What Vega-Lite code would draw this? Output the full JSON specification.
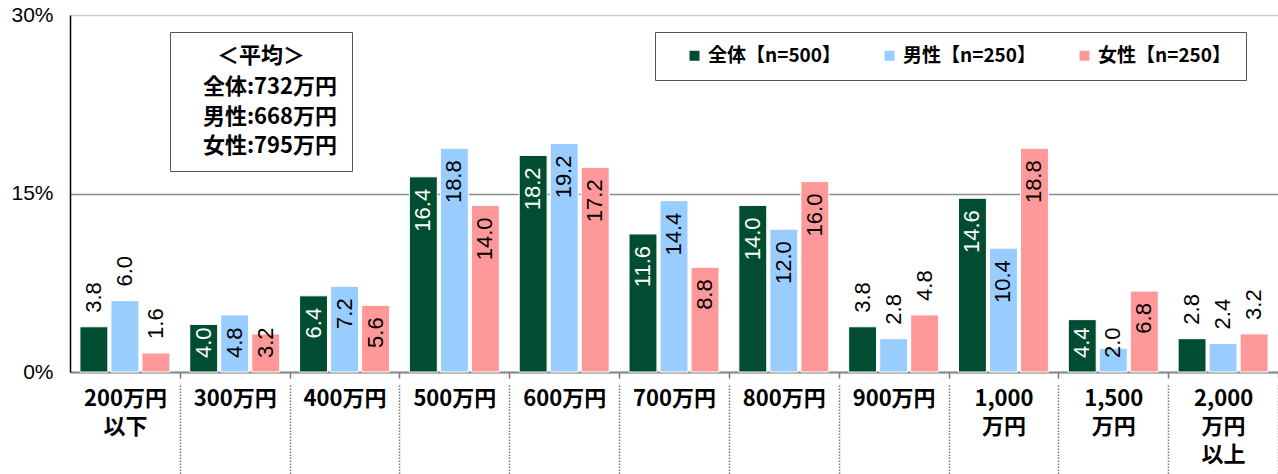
{
  "$schema": "https://vega.github.io/schema/vega-lite/v6.json",
  "width": 1208,
  "height": 357,
  "autosize": {"type": "none"},
  "padding": {"left": 70, "top": 15, "right": 0, "bottom": 102},
  "background": "white",
  "config": {
    "view": {"stroke": null},
    "font": "Noto Sans CJK JP"
  },
  "datasets": {
    "main": [
      {"cat": "200万円以下", "grp": "全体【n=500】", "v": 3.8},
      {"cat": "200万円以下", "grp": "男性【n=250】", "v": 6.0},
      {"cat": "200万円以下", "grp": "女性【n=250】", "v": 1.6},
      {"cat": "300万円", "grp": "全体【n=500】", "v": 4.0},
      {"cat": "300万円", "grp": "男性【n=250】", "v": 4.8},
      {"cat": "300万円", "grp": "女性【n=250】", "v": 3.2},
      {"cat": "400万円", "grp": "全体【n=500】", "v": 6.4},
      {"cat": "400万円", "grp": "男性【n=250】", "v": 7.2},
      {"cat": "400万円", "grp": "女性【n=250】", "v": 5.6},
      {"cat": "500万円", "grp": "全体【n=500】", "v": 16.4},
      {"cat": "500万円", "grp": "男性【n=250】", "v": 18.8},
      {"cat": "500万円", "grp": "女性【n=250】", "v": 14.0},
      {"cat": "600万円", "grp": "全体【n=500】", "v": 18.2},
      {"cat": "600万円", "grp": "男性【n=250】", "v": 19.2},
      {"cat": "600万円", "grp": "女性【n=250】", "v": 17.2},
      {"cat": "700万円", "grp": "全体【n=500】", "v": 11.6},
      {"cat": "700万円", "grp": "男性【n=250】", "v": 14.4},
      {"cat": "700万円", "grp": "女性【n=250】", "v": 8.8},
      {"cat": "800万円", "grp": "全体【n=500】", "v": 14.0},
      {"cat": "800万円", "grp": "男性【n=250】", "v": 12.0},
      {"cat": "800万円", "grp": "女性【n=250】", "v": 16.0},
      {"cat": "900万円", "grp": "全体【n=500】", "v": 3.8},
      {"cat": "900万円", "grp": "男性【n=250】", "v": 2.8},
      {"cat": "900万円", "grp": "女性【n=250】", "v": 4.8},
      {"cat": "1,000万円", "grp": "全体【n=500】", "v": 14.6},
      {"cat": "1,000万円", "grp": "男性【n=250】", "v": 10.4},
      {"cat": "1,000万円", "grp": "女性【n=250】", "v": 18.8},
      {"cat": "1,500万円", "grp": "全体【n=500】", "v": 4.4},
      {"cat": "1,500万円", "grp": "男性【n=250】", "v": 2.0},
      {"cat": "1,500万円", "grp": "女性【n=250】", "v": 6.8},
      {"cat": "2,000万円以上", "grp": "全体【n=500】", "v": 2.8},
      {"cat": "2,000万円以上", "grp": "男性【n=250】", "v": 2.4},
      {"cat": "2,000万円以上", "grp": "女性【n=250】", "v": 3.2}
    ],
    "avg": [
      {"avg": "全体:732万円"},
      {"avg": "男性:668万円"},
      {"avg": "女性:795万円"}
    ]
  },
  "layer": [
    {
      "data": {"name": "main"},
      "mark": {"type": "bar", "stroke": "white", "strokeWidth": 1},
      "encoding": {
        "x": {
          "field": "cat",
          "type": "nominal",
          "sort": null,
          "scale": {"paddingInner": 0, "paddingOuter": 0},
          "axis": {
            "title": null,
            "labelAngle": 0,
            "domainColor": "#8c8c8c",
            "domainWidth": 2,
            "tickBand": "extent",
            "tickSize": 102,
            "tickColor": {"condition": {"test": "datum.extra || datum.index < 0", "value": "rgba(0,0,0,0)"}, "value": "#777777"},
            "tickWidth": 1.5,
            "tickDash": [6, 7, 1.5, 1.5, 1.5, 1.5, 1.5, 1.5, 1.5, 1.5, 1.5, 1.5, 1.5, 1.5, 1.5, 1.5, 1.5, 1.5, 1.5, 1.5, 1.5, 1.5, 1.5, 1.5, 1.5, 1.5, 1.5, 1.5, 1.5, 1.5, 1.5, 1.5, 1.5, 1.5, 1.5, 1.5, 1.5, 1.5, 1.5, 1.5, 1.5, 1.5, 1.5, 1.5, 1.5, 1.5, 1.5, 1.5, 1.5, 1.5, 1.5, 1.5, 1.5, 1.5, 1.5, 1.5, 1.5, 1.5, 1.5, 1.5, 1.5, 1.5, 1.5, 1.5, 1.5, 1.5],
            "labelPadding": -86,
            "labelFont": "Noto Sans CJK JP",
            "labelFontWeight": "bold",
            "labelFontSize": 22,
            "labelColor": "black",
            "labelLineHeight": 28,
            "labelOverlap": false,
            "labelBound": false,
            "labelExpr": "datum.value == '200万円以下' ? ['200万円','以下'] : datum.value == '1,000万円' ? ['1,000','万円'] : datum.value == '1,500万円' ? ['1,500','万円'] : datum.value == '2,000万円以上' ? ['2,000','万円','以上'] : datum.value"
          }
        },
        "xOffset": {
          "field": "grp",
          "type": "nominal",
          "sort": ["全体【n=500】", "男性【n=250】", "女性【n=250】"],
          "scale": {"paddingInner": 0.1, "paddingOuter": 0.32}
        },
        "y": {
          "field": "v",
          "type": "quantitative",
          "scale": {"domain": [0, 30], "nice": false},
          "axis": {
            "title": null,
            "values": [0, 15, 30],
            "labelExpr": "datum.value + '%'",
            "labelFont": "Liberation Sans",
            "labelFontSize": 21,
            "labelColor": "black",
            "labelPadding": 17,
            "ticks": false,
            "domainColor": "black",
            "domainWidth": 1.5,
            "grid": true,
            "gridColor": {"condition": {"test": "datum.value == 30", "value": "#cccccc"}, "value": "#8c8c8c"},
            "gridWidth": 1.5
          }
        },
        "color": {
          "field": "grp",
          "type": "nominal",
          "sort": ["全体【n=500】", "男性【n=250】", "女性【n=250】"],
          "scale": {"domain": ["全体【n=500】", "男性【n=250】", "女性【n=250】"], "range": ["#004d32", "#99ccff", "#ff9999"]},
          "legend": {
            "title": null,
            "orient": "none",
            "legendX": 585,
            "legendY": 17,
            "direction": "horizontal",
            "strokeColor": "#555555",
            "padding": 14,
            "symbolType": "square",
            "symbolSize": 100,
            "symbolStrokeWidth": 0,
            "symbolOffset": 16,
            "labelOffset": 4,
            "columnPadding": 22,
            "labelFont": "Noto Sans CJK JP",
            "labelFontWeight": "bold",
            "labelFontSize": 19,
            "labelColor": "black",
            "labelLimit": 300
          }
        }
      }
    },
    {
      "data": {"name": "main"},
      "transform": [{"filter": "indexof(['200万円以下','900万円','2,000万円以上'], datum.cat) < 0 && datum.v >= 5.2"}],
      "mark": {"type": "text", "angle": -90, "align": "right", "baseline": "middle", "dx": -12, "font": "Liberation Sans", "fontSize": 22},
      "encoding": {
        "x": {"field": "cat", "type": "nominal", "sort": null},
        "xOffset": {"field": "grp", "type": "nominal", "sort": ["全体【n=500】", "男性【n=250】", "女性【n=250】"]},
        "y": {"field": "v", "type": "quantitative"},
        "text": {"field": "v", "type": "quantitative", "format": ".1f"},
        "color": {"condition": {"test": "datum.grp == '全体【n=500】'", "value": "white"}, "value": "black"}
      }
    },
    {
      "data": {"name": "main"},
      "transform": [{"filter": "indexof(['200万円以下','900万円','2,000万円以上'], datum.cat) < 0 && datum.v < 5.2"}],
      "mark": {"type": "text", "angle": -90, "align": "left", "baseline": "middle", "dx": 14, "font": "Liberation Sans", "fontSize": 22},
      "encoding": {
        "x": {"field": "cat", "type": "nominal", "sort": null},
        "xOffset": {"field": "grp", "type": "nominal", "sort": ["全体【n=500】", "男性【n=250】", "女性【n=250】"]},
        "y": {"datum": 0, "type": "quantitative"},
        "text": {"field": "v", "type": "quantitative", "format": ".1f"},
        "color": {"condition": {"test": "datum.grp == '全体【n=500】'", "value": "white"}, "value": "black"}
      }
    },
    {
      "data": {"name": "main"},
      "transform": [{"filter": "indexof(['200万円以下','900万円','2,000万円以上'], datum.cat) >= 0"}],
      "mark": {"type": "text", "angle": -90, "align": "left", "baseline": "middle", "dx": 14, "font": "Liberation Sans", "fontSize": 22, "color": "black"},
      "encoding": {
        "x": {"field": "cat", "type": "nominal", "sort": null},
        "xOffset": {"field": "grp", "type": "nominal", "sort": ["全体【n=500】", "男性【n=250】", "女性【n=250】"]},
        "y": {"field": "v", "type": "quantitative"},
        "text": {"field": "v", "type": "quantitative", "format": ".1f"}
      }
    },
    {
      "data": {"name": "avg"},
      "mark": {"type": "point", "opacity": 0},
      "encoding": {
        "shape": {
          "field": "avg",
          "type": "nominal",
          "sort": ["全体:732万円", "男性:668万円", "女性:795万円"],
          "legend": {
            "title": "＜平均＞",
            "orient": "none",
            "legendX": 100,
            "legendY": 17,
            "direction": "vertical",
            "strokeColor": "#555555",
            "padding": 14,
            "symbolSize": 0,
            "symbolStrokeWidth": 0,
            "labelAlign": "center",
            "labelOffset": 64,
            "labelLimit": 400,
            "rowPadding": 7.5,
            "titlePadding": 8,
            "titleAnchor": "middle",
            "titleAlign": "center",
            "titleFont": "Noto Sans CJK JP",
            "titleFontWeight": "bold",
            "titleFontSize": 22,
            "titleColor": "black",
            "labelFont": "Noto Sans CJK JP",
            "labelFontWeight": "bold",
            "labelFontSize": 22,
            "labelColor": "black",
            "labelExpr": "'\u00a0\u00a0\u00a0\u00a0\u00a0\u00a0\u00a0\u00a0\u00a0\u00a0\u00a0\u00a0\u00a0\u00a0\u00a0\u00a0' + datum.label + '\u00a0\u00a0\u00a0\u00a0\u00a0\u00a0\u00a0\u00a0\u00a0\u00a0\u00a0\u00a0\u00a0\u00a0\u00a0\u00a0'"
          }
        }
      }
    }
  ]
}
